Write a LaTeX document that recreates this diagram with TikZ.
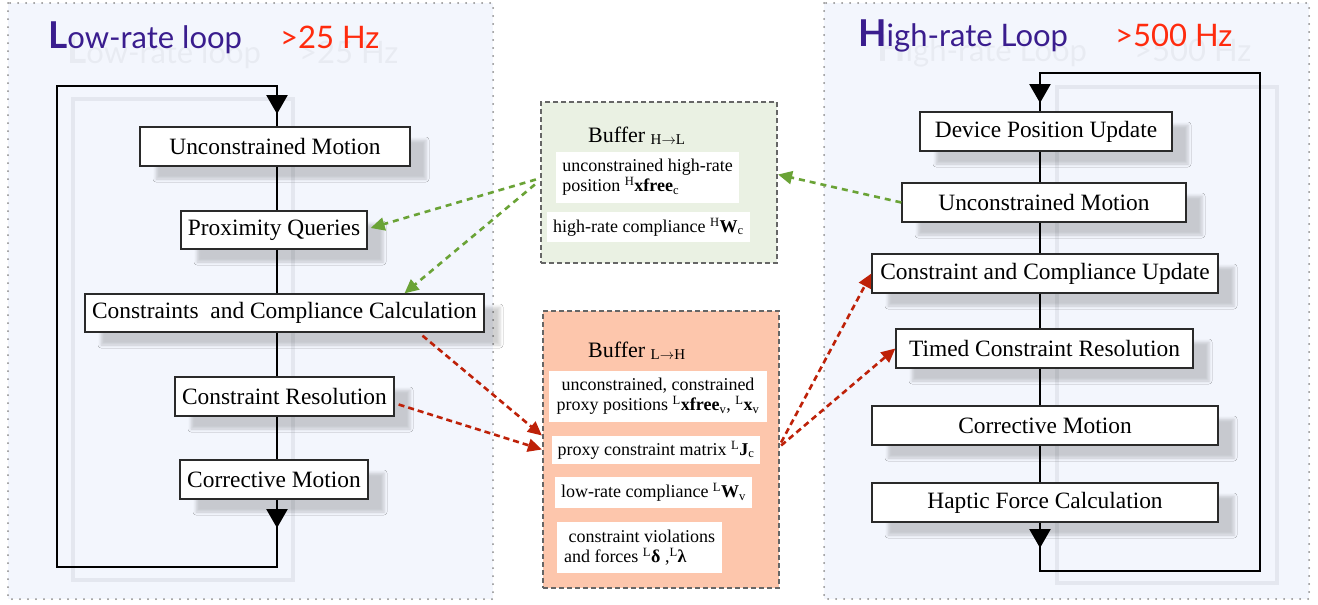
\documentclass[tikz,border=0pt]{standalone}
\usepackage{fontspec}
\setmainfont{Liberation Serif}
\newfontfamily\titlefont{Lato}
\usetikzlibrary{arrows.meta,shadows.blur}
\definecolor{panelbg}{HTML}{F3F6FD}
\definecolor{dotgray}{HTML}{8A8A8A}
\definecolor{titlepurple}{HTML}{3A1D8E}
\definecolor{titlered}{HTML}{FF2B0E}
\definecolor{greenbuf}{HTML}{EAF1E3}
\definecolor{orangebuf}{HTML}{FDC6AC}
\definecolor{garrow}{HTML}{6AA336}
\definecolor{rarrow}{HTML}{BE2108}
\definecolor{loopshade}{HTML}{E4E7EF}
\definecolor{boxborder}{HTML}{2A2A2A}
\definecolor{bufborder}{HTML}{666666}
\newcommand\mytitlesize{\fontsize{31}{34}\selectfont}
\newcommand\myinitial[1]{{\fontsize{37}{37}\selectfont\bfseries #1}}
\tikzset{
  panel/.style={fill=panelbg, draw=dotgray, line width=2pt, dash pattern=on 0pt off 8pt, line cap=round},
  ttl/.style={anchor=base west, inner sep=0pt, font=\titlefont\mytitlesize},
  ttlshadow/.style={ttl, text=black, opacity=0.045},
  stepbox/.style={draw=boxborder, fill=white, line width=1.3pt, inner sep=0pt,
    font=\fontsize{23.4}{27}\selectfont,
    blur shadow={shadow xshift=16pt, shadow yshift=-13pt, shadow blur radius=3pt, shadow opacity=18}},
  flow/.style={draw=black, line width=2.6pt},
  tip/.style={draw=black, line width=2.6pt, -{Triangle[length=19pt,width=21pt]}},
  loopshadow/.style={draw=loopshade, line width=4pt},
  buffer/.style={draw=bufborder, line width=2.2pt, dash pattern=on 5pt off 3pt, inner sep=0pt},
  bufitem/.style={fill=white, inner sep=0pt, font=\fontsize{18}{20}\selectfont, align=left},
  buftitle/.style={anchor=base west, inner sep=0pt, font=\fontsize{22}{24}\selectfont},
  garr/.style={draw=garrow, line width=2.6pt, dash pattern=on 6pt off 5pt, -{Triangle[length=14pt,width=13pt]}},
  rarr/.style={draw=rarrow, line width=2.6pt, dash pattern=on 6pt off 4pt, -{Triangle[length=14pt,width=13pt]}}
}
\newcommand\bufsub[1]{\raisebox{-2pt}{\fontsize{15}{15}\selectfont #1}}
\begin{document}
\begin{tikzpicture}[x=1pt,y=-1pt]
\useasboundingbox (0,0) rectangle (1318,605);
\fill[white] (0,0) rectangle (1318,605);
% panels
\draw[panel] (8,3) rectangle (493,599);
\draw[panel] (824,3) rectangle (1309,599);
% title shadows
\node[ttlshadow] at (67,63) {\myinitial{L}ow-rate loop};
\node[ttlshadow] at (299,63) {>25 Hz};
\node[ttlshadow] at (877,61) {\myinitial{H}igh-rate Loop};
\node[ttlshadow] at (1134,61) {>500 Hz};
% titles
\node[ttl, text=titlepurple] (Lt) at (48,48) {\myinitial{L}ow-rate loop};
\node[ttl, text=titlered] (Lhz) at (280,48) {>25 Hz};
\node[ttl, text=titlepurple] (Rt) at (858,46) {\myinitial{H}igh-rate Loop};
\node[ttl, text=titlered] (Rhz) at (1115,46) {>500 Hz};
% loop shadows
\draw[loopshadow] (73,99) rectangle (293,580);
\draw[loopshadow] (1057,87) rectangle (1277,583);
% left nodes
\node[stepbox, minimum width=270pt, minimum height=39pt] (Lum) at (275,146.5) {Unconstrained Motion};
\node[stepbox, minimum width=186pt, minimum height=38pt] (Lpq) at (274,230) {Proximity Queries};
\node[stepbox, minimum width=399pt, minimum height=38pt] (Lcc) at (284.5,313) {Constraints\ \ and Compliance Calculation};
\node[stepbox, minimum width=219pt, minimum height=39pt] (Lcr) at (284.5,396.5) {Constraint Resolution};
\node[stepbox, minimum width=188pt, minimum height=39pt] (Lcm) at (274,479.5) {Corrective Motion};
% right nodes
\node[stepbox, minimum width=252pt, minimum height=39pt] (Rdp) at (1046,131.5) {Device Position Update};
\node[stepbox, minimum width=284pt, minimum height=39pt] (Rum) at (1044,202.5) {Unconstrained Motion};
\node[stepbox, minimum width=346pt, minimum height=39pt] (Rcc) at (1045,273.5) {Constraint and Compliance Update};
\node[stepbox, minimum width=297pt, minimum height=39pt] (Rtc) at (1044.5,348.5) {Timed Constraint Resolution};
\node[stepbox, minimum width=346pt, minimum height=39pt] (Rcm) at (1045,425.5) {Corrective Motion};
\node[stepbox, minimum width=346pt, minimum height=39pt] (Rhf) at (1045,502.5) {Haptic Force Calculation};
% left flow
\coordinate (Lx) at (277,0);
\coordinate (Lbr) at (277,567);
\coordinate (Lbl) at (57,567);
\coordinate (Ltl) at (57,86);
\coordinate (Ltr) at (277,86);
\coordinate (LtipA) at (277,114);
\coordinate (LtipB) at (277,528);
\draw[flow] (Lum.south -| Lx) -- (Lpq.north -| Lx);
\draw[flow] (Lpq.south -| Lx) -- (Lcc.north -| Lx);
\draw[flow] (Lcc.south -| Lx) -- (Lcr.north -| Lx);
\draw[flow] (Lcr.south -| Lx) -- (Lcm.north -| Lx);
\draw[flow] (Lcm.south -| Lx) -- (Lbr) -- (Lbl) -- (Ltl) -- (Ltr) -- (Lum.north -| Lx);
\draw[tip] ([yshift=20pt]LtipA) -- (LtipA);
\draw[tip] ([yshift=20pt]LtipB) -- (LtipB);
% right flow
\coordinate (Rx) at (1040,0);
\coordinate (Rbl) at (1040,571);
\coordinate (Rbr) at (1260,571);
\coordinate (Rtr) at (1260,73);
\coordinate (Rtl) at (1040,73);
\coordinate (RtipA) at (1040,103);
\coordinate (RtipB) at (1040,548);
\draw[flow] (Rdp.south -| Rx) -- (Rum.north -| Rx);
\draw[flow] (Rum.south -| Rx) -- (Rcc.north -| Rx);
\draw[flow] (Rcc.south -| Rx) -- (Rtc.north -| Rx);
\draw[flow] (Rtc.south -| Rx) -- (Rcm.north -| Rx);
\draw[flow] (Rcm.south -| Rx) -- (Rhf.north -| Rx);
\draw[flow] (Rhf.south -| Rx) -- (Rbl) -- (Rbr) -- (Rtr) -- (Rtl) -- (Rdp.north -| Rx);
\draw[tip] ([yshift=20pt]RtipA) -- (RtipA);
\draw[tip] ([yshift=20pt]RtipB) -- (RtipB);
% green buffer
\node[buffer, fill=greenbuf, minimum width=236pt, minimum height=161pt] (BG) at (659,182.5) {};
\node[buftitle] (BGt) at (588,142) {Buffer \bufsub{H$\rightarrow$L}};
\node[bufitem, minimum width=183pt, minimum height=51pt] (BG1) at (647.5,177.5)
  {unconstrained high-rate\\position \textsuperscript{H}\textbf{xfree}\textsubscript{c}};
\node[bufitem, minimum width=203pt, minimum height=30pt] (BG2) at (648.5,227)
  {high-rate compliance \textsuperscript{H}\textbf{W}\textsubscript{c}};
% orange buffer
\node[buffer, fill=orangebuf, minimum width=236pt, minimum height=277pt] (BO) at (661,449.5) {};
\node[buftitle] (BOt) at (588,357) {Buffer \bufsub{L$\rightarrow$H}};
\node[bufitem, align=center, minimum width=218pt, minimum height=51pt] (BO1) at (658,396.5)
  {unconstrained, constrained\\proxy positions \textsuperscript{L}\textbf{xfree}\textsubscript{v}, \textsuperscript{L}\textbf{x}\textsubscript{v}};
\node[bufitem, minimum width=208pt, minimum height=28pt] (BO2) at (656,450)
  {proxy constraint matrix \textsuperscript{L}\textbf{J}\textsubscript{c}};
\node[bufitem, minimum width=197pt, minimum height=31pt] (BO3) at (653.5,492.5)
  {low-rate compliance \textsuperscript{L}\textbf{W}\textsubscript{v}};
\node[bufitem, minimum width=165pt, minimum height=51pt] (BO4) at (639.5,547.5)
  {\ constraint violations\\and forces \textsuperscript{L}\textbf{δ} ,\textsuperscript{L}\textbf{λ}};
% green arrows
\draw[garr] ([xshift=-4pt,yshift=3pt]BG.west) -- ([xshift=3pt,yshift=2pt]Lpq.east);
\draw[garr] ([xshift=-5pt,yshift=-2pt]BG.west) -- ([xshift=120pt]Lcc.north);
\draw[garr] (Rum.west) -- ([yshift=8pt]BG.east);
% red arrows
\draw[rarr] ([xshift=138pt,yshift=-3pt]Lcc.south) -- ([yshift=14pt]BO.west);
\draw[rarr] ([xshift=4pt,yshift=-8pt]Lcr.east) -- (BO.west);
\draw[rarr] ([xshift=1pt,yshift=7pt]BO.east) -- (Rcc.west);
\draw[rarr] ([xshift=1pt,yshift=4pt]BO.east) -- (Rtc.west);
\end{tikzpicture}
\end{document}
